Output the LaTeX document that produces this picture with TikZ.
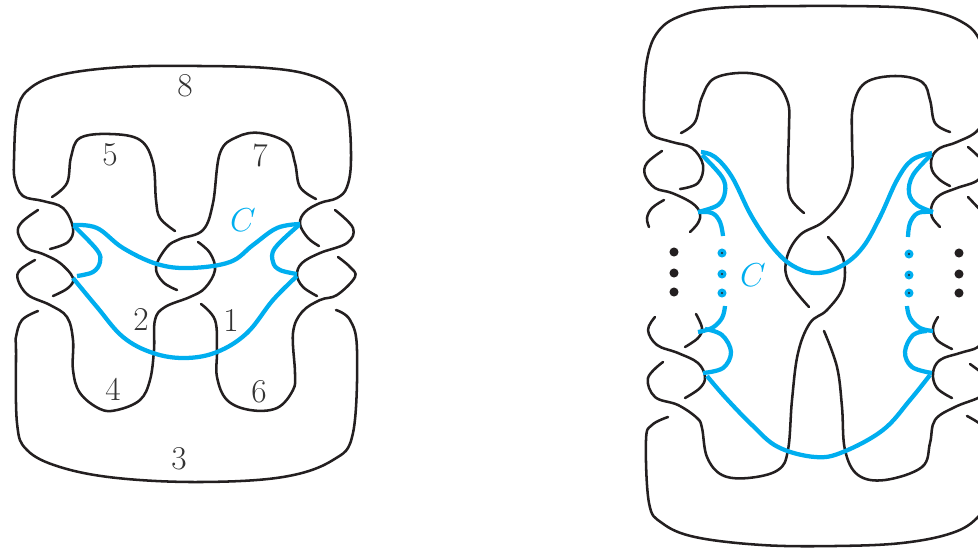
\documentclass[tikz,border=0pt]{standalone}
\definecolor{knotblack}{HTML}{231F20}
\definecolor{curveblue}{HTML}{00AEEF}
\definecolor{labelgray}{HTML}{333333}
\tikzset{
  strand/.style={knotblack,line width=1.9pt,line cap=round,line join=round},
  curveC/.style={curveblue,line width=3.2pt,line cap=butt,line join=round},
  numlabel/.style={labelgray,inner sep=0pt,font=\fontsize{25}{30}\selectfont},
  Clabel/.style={curveblue,inner sep=0pt,font=\fontsize{37}{44}\selectfont},
  bigdot/.style={knotblack,radius=3.4pt},
  bluedot/.style={curveblue,radius=3.4pt},
  smoothline/.style={smooth,tension=0.62}
}
\begin{document}
\begin{tikzpicture}[x=0.75pt,y=-0.75pt]
\useasboundingbox (0,0) rectangle (978,547);
\clip (0,0) rectangle (978,547);

% left knot
\draw[strand] plot[smoothline] coordinates {(50,249) (68,242) (73,228) (63,208) (43,201) (23,196) (15,180) (14,160) (17,113) (28,90) (60,75) (123,67) (200,66) (267,68) (310,75) (337,90) (348,113) (351,160) (347,187) (337,198) (320,203) (305,212) (300,224) (308,238) (319,246)};
\draw[strand] plot[smoothline] coordinates {(38,210) (22,222) (18,233) (27,248) (43,254) (60,263) (73,278) (68,288) (53,296)};
\draw[strand] plot[smoothline] coordinates {(35,260) (20,270) (18,280) (28,295) (50,305) (67,317) (73,340) (73,370) (80,393) (100,409) (117,410) (140,400) (150,380) (154,350) (155,320) (165,307) (190,297) (205,288) (215,270) (210,253) (198,242)};
\draw[strand] plot[smoothline] coordinates {(38,311) (22,320) (16,337) (16,350) (17,423) (27,450) (60,467) (117,478) (200,482) (283,477) (333,460) (353,433) (357,350) (350,320) (336,310)};
\draw[strand] plot[smoothline] coordinates {(52,197) (67,183) (71,157) (80,138) (110,134) (140,140) (153,163) (156,200) (160,218) (175,231)};
\draw[strand] plot[smoothline] coordinates {(316,199) (300,187) (295,163) (287,143) (260,133) (237,137) (220,153) (213,203) (203,230) (180,239) (167,247) (156,267) (163,282) (177,290)};
\draw[strand] plot[smoothline] coordinates {(201,304) (215,320) (217,350) (217,377) (227,400) (250,410) (277,408) (293,390) (295,373) (293,333) (302,312) (320,300) (337,295) (355,277) (350,267) (338,257)};
\draw[strand] plot[smoothline] coordinates {(335,210) (353,228) (347,243) (320,253) (302,263) (297,275) (303,287) (317,296)};

\draw[curveC] plot[smoothline] coordinates {(73,225) (97,228) (123,248) (157,264) (190,268) (230,262) (253,245) (277,228) (300,224)};
\draw[curveC] plot[smoothline] coordinates {(74,226) (97,250) (100,262) (93,272) (77,276)};
\draw[curveC] plot[smoothline] coordinates {(299,225) (275,248) (273,262) (280,270) (297,274)};
\draw[curveC] plot[smoothline] coordinates {(73,278) (97,307) (123,337) (153,353) (185,358) (217,352) (247,333) (273,300) (297,276)};

\node[numlabel] (n8) at (185,86) {8};
\node[numlabel] (n5) at (110,155) {5};
\node[numlabel] (n7) at (260,155) {7};
\node[numlabel] (n2) at (141,319) {2};
\node[numlabel] (n1) at (231,320) {1};
\node[numlabel] (n4) at (113,389) {4};
\node[numlabel] (n6) at (259,392) {6};
\node[numlabel] (n3) at (179,459) {3};
\node[Clabel] (Cleft) at (243,220) {$C$};

% right knot
\draw[strand] plot[smoothline] coordinates {(680,189) (698,183) (703,165) (692,148) (672,142) (652,135) (645,120) (644,100) (647,60) (657,33) (678,17) (718,8) (802,6) (895,7) (935,12) (962,22) (978,37) (990,70) (990,105) (978,130) (957,142) (940,148) (932,157) (932,170) (940,180) (950,186)};
\draw[strand] plot[smoothline] coordinates {(662,151) (647,163) (645,175) (655,188) (672,193) (692,203) (700,213) (698,223) (690,232)};
\draw[strand] plot[smoothline] coordinates {(664,200) (652,208) (647,218) (649,227)};
\draw[strand] plot[smoothline] coordinates {(681,133) (695,122) (702,97) (715,78) (748,73) (775,82) (788,103) (789,127) (788,170) (790,197) (804,213)};
\draw[strand] plot[smoothline] coordinates {(950,132) (935,123) (930,100) (922,82) (895,76) (865,83) (853,107) (852,140) (852,173) (843,200) (823,222) (800,235) (787,257) (788,280) (809,307)};
\draw[strand] plot[smoothline] coordinates {(828,237) (843,258) (843,287) (827,310) (810,323) (798,353) (792,400) (788,450) (778,470) (748,478) (722,475) (707,457) (702,428) (697,418) (678,405) (655,397) (648,378) (663,362)};
\draw[strand] plot[smoothline] coordinates {(655,317) (648,330) (657,345) (678,353) (698,363) (705,377) (700,388) (685,398)};
\draw[strand] plot[smoothline] coordinates {(696,314) (702,328) (698,338) (685,347)};
\draw[strand] plot[smoothline] coordinates {(668,417) (652,425) (646,440) (649,503) (662,523) (695,537) (762,545) (835,546) (902,543) (952,533) (978,517) (995,490) (995,440) (967,416)};
\draw[strand] plot[smoothline] coordinates {(968,147) (985,165) (978,180) (957,188) (940,195) (932,205) (932,217) (940,227)};
\draw[strand] plot[smoothline] coordinates {(968,197) (985,215)};
\draw[strand] plot[smoothline] coordinates {(938,317) (933,328) (937,340) (952,349)};
\draw[strand] plot[smoothline] coordinates {(985,335) (978,347) (960,353) (940,360) (933,373) (937,388) (952,398)};
\draw[strand] plot[smoothline] coordinates {(970,364) (985,375)};
\draw[strand] plot[smoothline] coordinates {(824,331) (837,367) (842,407) (845,450) (858,475) (885,480) (922,467) (930,443) (935,420) (955,407) (978,398) (990,390)};

\draw[curveC] plot[smoothline] coordinates {(701,152) (715,157) (732,177) (752,217) (775,250) (795,267) (818,273) (843,265) (863,247) (880,217) (897,180) (912,160) (932,153)};
\draw[curveC] plot[smoothline] coordinates {(702,155) (722,177) (725,192) (718,205) (698,212)};
\draw[curveC] plot[smoothline] coordinates {(698,212) (712,213) (720,222) (723,236)};
\draw[curveC] plot[smoothline] coordinates {(931,155) (913,175) (909,193) (917,205) (933,212)};
\draw[curveC] plot[smoothline] coordinates {(933,212) (918,213) (910,223) (908,237)};
\draw[curveC] plot[smoothline] coordinates {(725,306) (722,318) (712,328) (698,332)};
\draw[curveC] plot[smoothline] coordinates {(705,329) (722,335) (731,352) (723,368) (703,373)};
\draw[curveC] plot[smoothline] coordinates {(707,376) (725,397) (752,425) (778,447) (815,457) (843,452) (883,430) (910,400) (930,375)};
\draw[curveC] plot[smoothline] coordinates {(907,306) (910,318) (920,328) (933,331)};
\draw[curveC] plot[smoothline] coordinates {(927,331) (913,335) (905,352) (912,367) (932,373)};

\foreach \dotx/\doty in {674/252,674/273,674/292,959/253,959/274,959/293}
  \fill[bigdot] (\dotx,\doty) circle;
\foreach \dotx/\doty in {722/253,722/274,722/293,909/254,909/275,909/293}{
  \fill[bluedot] (\dotx,\doty) circle;
  \fill[knotblack] (\dotx,\doty) circle[radius=0.8pt];
}

\node[Clabel] (Cright) at (753,275) {$C$};
\end{tikzpicture}
\end{document}
